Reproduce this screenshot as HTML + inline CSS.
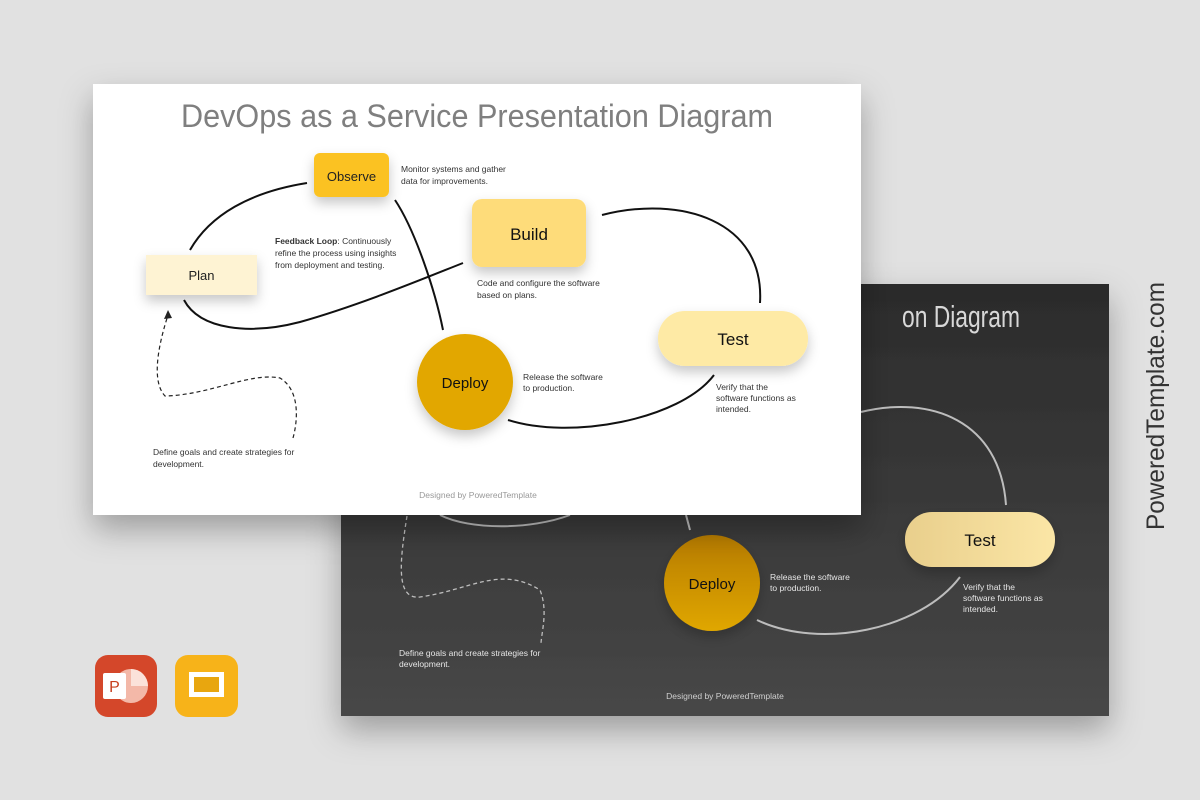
<!DOCTYPE html>
<html><head><meta charset="utf-8"><style>
html,body{margin:0;padding:0;background:#e1e1e1;}
svg{display:block;font-family:"Liberation Sans",sans-serif;}
</style></head><body>
<svg width="1200" height="800" viewBox="0 0 1200 800" xmlns="http://www.w3.org/2000/svg">
<defs>
<filter id="sh" x="-30%" y="-30%" width="160%" height="180%"><feDropShadow dx="0" dy="6" stdDeviation="6" flood-color="#000" flood-opacity="0.22"/></filter>
<filter id="bigsh" x="-20%" y="-20%" width="140%" height="160%"><feDropShadow dx="0" dy="14" stdDeviation="16" flood-color="#000" flood-opacity="0.3"/></filter>
<linearGradient id="dk" x1="0" y1="0" x2="0" y2="1"><stop offset="0" stop-color="#2b2b2b"/><stop offset="1" stop-color="#474747"/></linearGradient>
<linearGradient id="dtest" x1="0" y1="0" x2="1" y2="0"><stop offset="0" stop-color="#e9cf8c"/><stop offset="1" stop-color="#fbe6a6"/></linearGradient>
<linearGradient id="ddep" x1="0" y1="0" x2="0" y2="1"><stop offset="0" stop-color="#b77c06"/><stop offset="1" stop-color="#e0a704"/></linearGradient>
</defs>

<!-- dark slide -->
<rect x="341" y="284" width="768" height="432" fill="url(#dk)" filter="url(#bigsh)"/>
<text x="1020" y="327" text-anchor="end" font-size="31" fill="#d8d8d8" textLength="118" lengthAdjust="spacingAndGlyphs">on Diagram</text>
<g fill="none" stroke="#bdbdbd" stroke-width="2">
<path d="M861 412 C930 395 1000 420 1006 505"/>
<path d="M960 577 C920 630 820 650 757 620"/>
<path d="M440 515 C470 530 530 530 570 515"/>
<path d="M686 515 L690 530"/>
</g>
<path d="M407 516 C400 560 395 600 420 597 C470 590 500 565 540 590 C548 610 542 630 541 643" fill="none" stroke="#bdbdbd" stroke-width="1.3" stroke-dasharray="4 3"/>
<rect x="905" y="512" width="150" height="55" rx="27" fill="url(#dtest)" filter="url(#sh)"/>
<text x="980" y="546" text-anchor="middle" font-size="17" fill="#111">Test</text>
<circle cx="712" cy="583" r="48" fill="url(#ddep)" filter="url(#sh)"/>
<text x="712" y="589" text-anchor="middle" font-size="15" fill="#111">Deploy</text>
<g font-size="8.5" fill="#e6e6e6">
<text x="770" y="580">Release the software</text><text x="770" y="591">to production.</text>
<text x="963" y="590">Verify that the</text><text x="963" y="601">software functions as</text><text x="963" y="612">intended.</text>
<text x="399" y="656">Define goals and create strategies for</text><text x="399" y="667">development.</text>
<text x="725" y="699" text-anchor="middle" fill="#cfcfcf">Designed by PoweredTemplate</text>
</g>

<!-- white slide -->
<rect x="93" y="84" width="768" height="431" fill="#fff" filter="url(#bigsh)"/>
<text x="181" y="127" font-size="32" fill="#7f7f7f" textLength="592" lengthAdjust="spacingAndGlyphs">DevOps as a Service Presentation Diagram</text>
<g fill="none" stroke="#111" stroke-width="2">
<path d="M307 183 C250 192 210 215 190 250"/>
<path d="M395 200 C415 230 435 290 443 330"/>
<path d="M184 300 C200 330 250 335 300 322 C360 305 420 280 463 263"/>
<path d="M602 215 C680 195 765 220 760 303"/>
<path d="M714 375 C680 420 570 440 508 420"/>
</g>
<path d="M293 438 C298 420 300 390 280 378 C250 372 210 395 165 396 C150 380 160 340 168 315" fill="none" stroke="#222" stroke-width="1.2" stroke-dasharray="4 3"/>
<path d="M168 310 L164 319 L172 318 Z" fill="#222"/>

<rect x="314" y="153" width="75" height="44" rx="6" fill="#fbc223" filter="url(#sh)"/>
<text x="351.5" y="181" text-anchor="middle" font-size="13" fill="#222">Observe</text>
<rect x="472" y="199" width="114" height="68" rx="10" fill="#fedc7a" filter="url(#sh)"/>
<text x="529" y="240" text-anchor="middle" font-size="17" fill="#111">Build</text>
<rect x="146" y="255" width="111" height="40" fill="#fef3d3" filter="url(#sh)"/>
<text x="201.5" y="280" text-anchor="middle" font-size="13" fill="#222">Plan</text>
<circle cx="465" cy="382" r="48" fill="#e2a703" filter="url(#sh)"/>
<text x="465" y="388" text-anchor="middle" font-size="15" fill="#111">Deploy</text>
<rect x="658" y="311" width="150" height="55" rx="27" fill="#feeaa5" filter="url(#sh)"/>
<text x="733" y="345" text-anchor="middle" font-size="17" fill="#111">Test</text>

<g font-size="8.5" fill="#333">
<text x="401" y="172">Monitor  systems and gather</text><text x="401" y="184">data for improvements.</text>
<text x="275" y="244"><tspan font-weight="bold">Feedback Loop</tspan>: Continuously</text>
<text x="275" y="256">refine the process using insights</text>
<text x="275" y="268">from deployment  and testing.</text>
<text x="477" y="286">Code and configure the software</text><text x="477" y="298">based on plans.</text>
<text x="523" y="380">Release the software</text><text x="523" y="391">to production.</text>
<text x="716" y="390">Verify that the</text><text x="716" y="401">software functions as</text><text x="716" y="412">intended.</text>
<text x="153" y="455">Define goals and create strategies for</text><text x="153" y="467">development.</text>
<text x="478" y="498" text-anchor="middle" fill="#999">Designed by PoweredTemplate</text>
</g>

<!-- vertical brand -->
<text transform="translate(1164 530) rotate(-90)" font-size="25" fill="#333" textLength="248" lengthAdjust="spacingAndGlyphs">PoweredTemplate.com</text>

<!-- icons -->
<rect x="95" y="655" width="62" height="62" rx="13" fill="#d4472a"/>
<circle cx="131" cy="686" r="17" fill="#f3b8a8"/>
<path d="M131 669 A17 17 0 0 1 148 686 L131 686 Z" fill="#fbe2da"/>
<rect x="103" y="673" width="23" height="26" rx="2" fill="#fff"/>
<text x="114.5" y="692" text-anchor="middle" font-size="16" fill="#c6401f">P</text>
<rect x="175" y="655" width="63" height="62" rx="13" fill="#f7b319"/>
<rect x="189" y="672" width="35" height="25" fill="#fff"/>
<rect x="194" y="677" width="25" height="15" fill="#e8a60f"/>
</svg>
</body></html>
